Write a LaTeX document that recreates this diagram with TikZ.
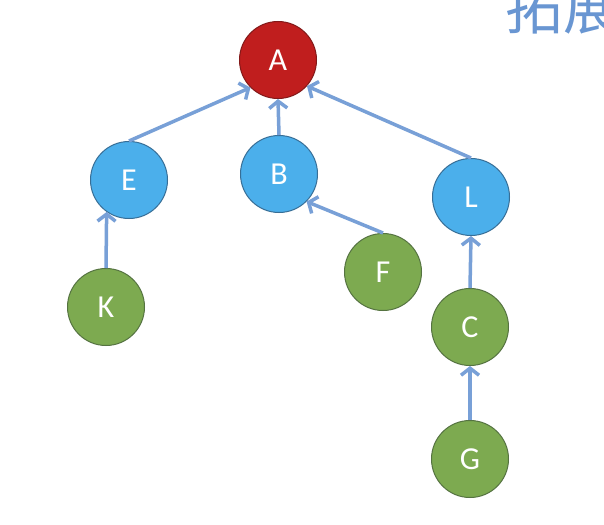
\documentclass[tikz,border=0pt]{standalone}
\usepackage{fontspec}
\setsansfont{Carlito}
\newfontfamily\cjkfont{Noto Sans CJK SC}
\usetikzlibrary{arrows.meta}
\definecolor{redfill}{RGB}{192,30,30}
\definecolor{redline}{RGB}{130,25,25}
\definecolor{bluefill}{RGB}{75,175,235}
\definecolor{blueline}{RGB}{55,110,150}
\definecolor{greenfill}{RGB}{125,170,80}
\definecolor{greenline}{RGB}{85,115,65}
\definecolor{arrowc}{RGB}{120,160,215}
\definecolor{titlec}{RGB}{105,150,210}
\begin{document}
\begin{tikzpicture}[x=1pt,y=-1pt,
  vert/.style={circle,minimum size=77pt,inner sep=0pt,line width=1pt,
    text=white,font=\sffamily\fontsize{32}{34}\selectfont},
  rednode/.style={vert,fill=redfill,draw=redline},
  bluenode/.style={vert,fill=bluefill,draw=blueline},
  greennode/.style={vert,fill=greenfill,draw=greenline},
  edge/.style={draw=arrowc,line width=3.5pt,-{Straight Barb[length=7pt,width=18pt]}}]
\useasboundingbox (0,0) rectangle (604,524);
\clip (0,0) rectangle (604,524);
\fill[white] (0,0) rectangle (604,524);
\node[anchor=base west,inner sep=0pt,text=titlec,font=\cjkfont\fontsize{58}{60}\selectfont] (title) at (505,30) {拓展};
\node[rednode] (A) at (278,60) {A};
\node[bluenode] (E) at (129,180) {E};
\node[bluenode] (B) at (279,174) {B};
\node[bluenode] (L) at (471,197) {L};
\node[greennode] (F) at (383,272) {F};
\node[greennode] (K) at (106,307) {K};
\node[greennode] (C) at (470,327) {C};
\node[greennode] (G) at (470,459) {G};
\draw[edge] (E.north) -- (A.225);
\draw[edge] (B.north) -- (A.south);
\draw[edge] (L.north) -- (A.318);
\draw[edge] (F.north) -- (B.315);
\draw[edge] (K.north) -- (E.235);
\draw[edge] (C.north) -- (L.south);
\draw[edge] (G.north) -- (C.south);
\end{tikzpicture}
\end{document}
